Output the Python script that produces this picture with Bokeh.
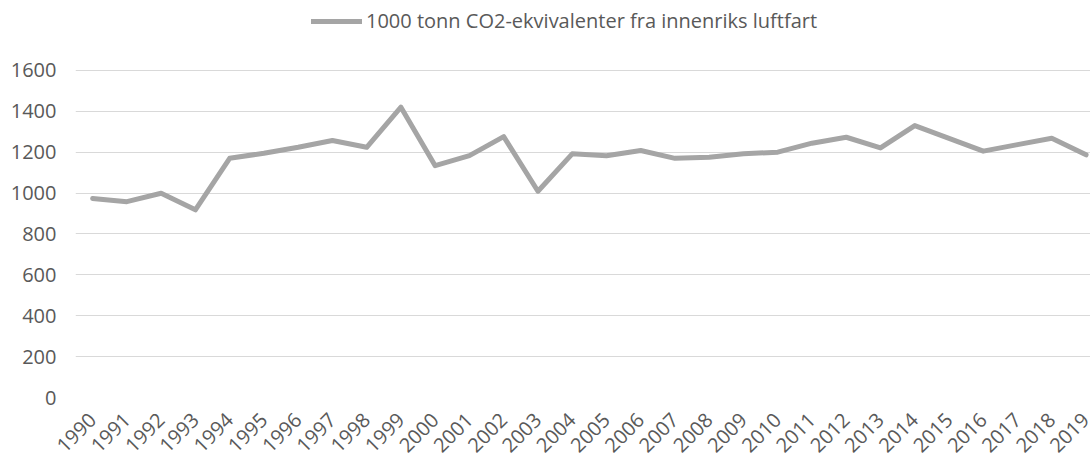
import numpy as np
from bokeh.plotting import figure
from bokeh.models import Range1d, FixedTicker, Legend, LegendItem, ColumnDataSource
from bokeh.embed import file_html
from bokeh.resources import INLINE

years = [str(y) for y in range(1990, 2020)]
values = [974, 958, 999, 918, 1170, 1195, 1224, 1257, 1224, 1420,
          1134, 1183, 1276, 1009, 1192, 1183, 1208, 1170, 1175, 1192,
          1200, 1244, 1273, 1221, 1330, 1268, 1205, 1237, 1268, 1187]
series_name = "1000 tonn CO2-ekvivalenter fra innenriks luftfart"
y_ticks = [0, 200, 400, 600, 800, 1000, 1200, 1400, 1600]

FONT = "Open Sans"
TXT = "#595959"
FS = "20px"

x = list(range(len(years)))
src = ColumnDataSource(dict(x=x, y=values))

# frame spans the full top of the canvas so the legend can sit inside it
p = figure(output_backend="svg", toolbar_location=None,
           width=1090, height=461,
           min_border_left=75, min_border_right=0, min_border_top=0, min_border_bottom=64,
           x_range=Range1d(-0.5, 29.13), y_range=Range1d(0, 1942))
p.title.visible = False
p.outline_line_color = None
p.background_fill_color = "white"
p.border_fill_color = "white"

r = p.line("x", "y", source=src, line_color="#A5A5A5", line_width=5,
           line_join="round", line_cap="round")

# x axis
p.xaxis.ticker = FixedTicker(ticks=x)
p.xaxis.major_label_overrides = {i: y for i, y in enumerate(years)}
p.xaxis.major_label_orientation = np.pi / 4
p.xaxis.axis_line_color = None
p.xaxis.major_tick_line_color = None
p.xaxis.major_tick_out = 0
p.xaxis.major_tick_in = 0
p.xaxis.minor_tick_line_color = None
p.xaxis.major_label_text_font = FONT
p.xaxis.major_label_text_font_size = FS
p.xaxis.major_label_text_color = TXT
p.xaxis.major_label_standoff = 19

# y axis
p.yaxis.ticker = FixedTicker(ticks=y_ticks)
p.yaxis.axis_line_color = None
p.yaxis.major_tick_line_color = None
p.yaxis.major_tick_out = 0
p.yaxis.major_tick_in = 0
p.yaxis.minor_tick_line_color = None
p.yaxis.major_label_text_font = FONT
p.yaxis.major_label_text_font_size = FS
p.yaxis.major_label_text_color = TXT
p.yaxis.major_label_standoff = 19

p.xgrid.grid_line_color = None
p.ygrid.grid_line_color = "#D9D9D9"
p.ygrid.grid_line_width = 1

legend = Legend(items=[LegendItem(label=series_name, renderers=[r])],
                location=(236, 363), orientation="horizontal",
                glyph_width=51, glyph_height=20, label_standoff=4,
                label_text_font=FONT, label_text_font_size=FS,
                label_text_color=TXT, border_line_color=None,
                background_fill_alpha=0, padding=0, margin=0)
p.add_layout(legend)

open("out.html", "w").write(file_html(p, INLINE))
